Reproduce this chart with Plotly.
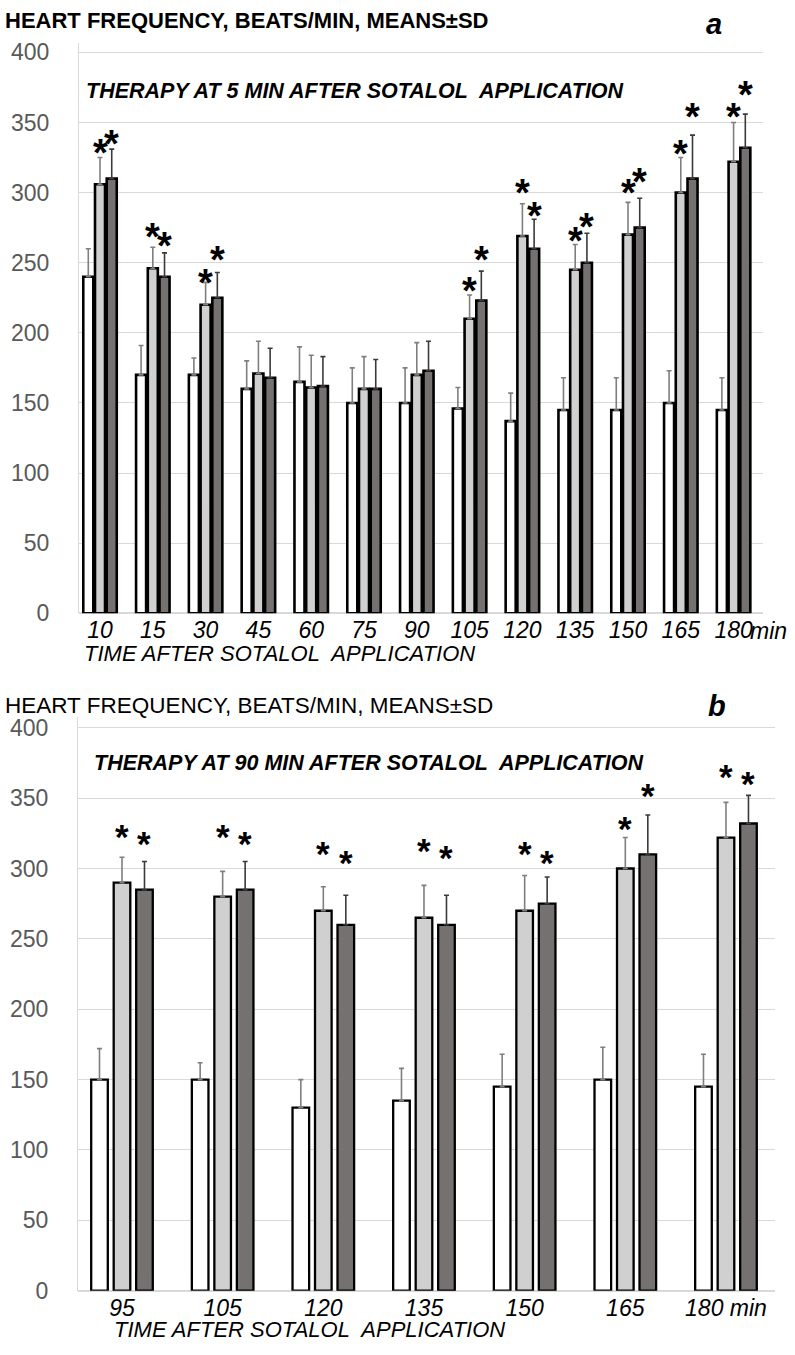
import plotly.graph_objects as go

# ---------------- data: panel a ----------------
cats_a = ["10", "15", "30", "45", "60", "75", "90", "105", "120", "135", "150", "165", "180"]
a_white = [240, 170, 170, 160, 165, 150, 150, 146, 137, 145, 145, 150, 145]
a_white_sd = [20, 21, 12, 20, 25, 25, 25, 15, 20, 23, 23, 23, 23]
a_light = [306, 246, 220, 171, 161, 160, 170, 210, 269, 245, 270, 300, 322]
a_light_sd = [19, 15, 16, 23, 23, 23, 23, 17, 23, 18, 23, 25, 28]
a_dark = [310, 240, 225, 168, 162, 160, 173, 223, 260, 250, 275, 310, 332]
a_dark_sd = [21, 17, 18, 21, 21, 21, 21, 21, 21, 21, 21, 31, 24]
# asterisk heights (None = no asterisk)
a_star_light = [335, 275, 242, None, None, None, None, 236, 306, 272, 306, 334, 360]
a_star_dark = [341, 268, 258, None, None, None, None, 258, 290, 282, 314, 360, 376]

# ---------------- data: panel b ----------------
cats_b = ["95", "105", "120", "135", "150", "165", "180"]
b_white = [150, 150, 130, 135, 145, 150, 145]
b_white_sd = [22, 12, 20, 23, 23, 23, 23]
b_light = [290, 280, 270, 265, 270, 300, 322]
b_light_sd = [18, 18, 17, 23, 25, 22, 25]
b_dark = [285, 285, 260, 260, 275, 310, 332]
b_dark_sd = [20, 20, 21, 21, 19, 28, 20]
b_star_light = [329, 329, 317, 319, 317, 335, 372]
b_star_dark = [324, 324, 311, 314, 311, 358, 367]

y_ticks = [0, 50, 100, 150, 200, 250, 300, 350, 400]

W, H = 795, 1355
FONT = "Liberation Sans, Arial, sans-serif"
C_WHITE, C_LIGHT, C_DARK = "#FFFFFF", "#D0D0D0", "#767171"
ERR_LIGHT, ERR_DARK = "#7F7F7F", "#3A3A3A"

fig = go.Figure()

def add_panel(cats, series, xa, ya, pitch, width, lw):
    idx = list(range(len(cats)))
    for k, (vals, sd, color, ecol) in enumerate(series):
        center = (k - 1) * pitch
        fig.add_trace(go.Bar(
            x=idx, y=vals, xaxis=xa, yaxis=ya,
            width=width, offset=center - width / 2,
            marker=dict(color=color, line=dict(color="#000000", width=lw)),
            error_y=dict(type="data", array=sd, symmetric=False, arrayminus=[0] * len(sd),
                         color=ecol, thickness=1.6, width=2.5),
            showlegend=False, hoverinfo="skip",
        ))

PITCH_A, WIDTH_A = 0.222, 0.19
PITCH_B, WIDTH_B = 0.2235, 0.165

add_panel(cats_a, [(a_white, a_white_sd, C_WHITE, ERR_LIGHT),
                   (a_light, a_light_sd, C_LIGHT, ERR_LIGHT),
                   (a_dark, a_dark_sd, C_DARK, ERR_DARK)], "x", "y", PITCH_A, WIDTH_A, 2.6)
add_panel(cats_b, [(b_white, b_white_sd, C_WHITE, ERR_LIGHT),
                   (b_light, b_light_sd, C_LIGHT, ERR_LIGHT),
                   (b_dark, b_dark_sd, C_DARK, ERR_DARK)], "x2", "y2", PITCH_B, WIDTH_B, 2.3)

def px_x(p):
    return p / W

def px_y(p):
    return 1 - p / H

# domains (pixel measurements of plot areas)
xa_dom = [px_x(79), px_x(763)]
ya_dom = [px_y(617), px_y(40)]
xb_dom = [px_x(78), px_x(775)]
yb_dom = [px_y(1303), px_y(722)]

ya_top = 400 * (617 - 40) / (617 - 49)
yb_top = 400 * (1303 - 722) / (1303 - 733)

axis_common_y = dict(
    tickvals=y_ticks, showgrid=True, gridcolor="#D9D9D9", gridwidth=1,
    zeroline=True, zerolinecolor="#D9D9D9", zerolinewidth=1.5,
    showline=True, linecolor="#D9D9D9", linewidth=1,
    tickfont=dict(family=FONT, size=23, color="#595959"),
    ticks="", ticklabelstandoff=24,
)
axis_common_x = dict(
    showgrid=False, zeroline=False, showline=False, ticks="",
    tickfont=dict(family=FONT, size=23, color="#000000", style="italic"),
    ticklabelstandoff=1,
)

ticktext_a = list(cats_a)
ticktext_b = list(cats_b[:-1]) + [cats_b[-1] + " min"]

fig.update_layout(
    width=W, height=H, paper_bgcolor="#FFFFFF", plot_bgcolor="#FFFFFF",
    margin=dict(l=0, r=0, t=0, b=0),
    barmode="overlay",
    xaxis=dict(domain=xa_dom, anchor="y", range=[-0.398, 12.557],
               tickvals=list(range(len(cats_a))), ticktext=ticktext_a, **axis_common_x),
    yaxis=dict(domain=ya_dom, anchor="x", range=[0, ya_top], **axis_common_y),
    xaxis2=dict(domain=xb_dom, anchor="y2", range=[-0.437, 6.487],
                tickvals=list(range(len(cats_b))), ticktext=ticktext_b, **axis_common_x),
    yaxis2=dict(domain=yb_dom, anchor="x2", range=[0, yb_top], **axis_common_y),
)

ann = []

def star(xref, yref, x, y, size):
    ann.append(dict(xref=xref, yref=yref, x=x, y=y, text="<b>*</b>", showarrow=False,
                    font=dict(family=FONT, size=size, color="#000000"),
                    xanchor="center", yanchor="middle", yshift=-9))

for i in range(len(cats_a)):
    if a_star_light[i] is not None:
        star("x", "y", i, a_star_light[i], 38)
    if a_star_dark[i] is not None:
        star("x", "y", i + PITCH_A, a_star_dark[i], 38)
for i in range(len(cats_b)):
    star("x2", "y2", i, b_star_light[i], 35)
    star("x2", "y2", i + PITCH_B, b_star_dark[i], 35)

def text(x, y, s, size, bold=False, italic=False, anchor="left", color="#000000"):
    ann.append(dict(xref="paper", yref="paper", x=px_x(x), y=px_y(y),
                    text=("<b>%s</b>" % s) if bold else s, showarrow=False,
                    font=dict(family=FONT, size=size, color=color,
                              style="italic" if italic else "normal"),
                    xanchor=anchor, yanchor="middle"))

NB = "\u00a0"
# panel a texts
text(3, 17, "HEART FREQUENCY, BEATS/MIN, MEANS±SD", 22, bold=True)
text(704, 20, "a", 29, bold=True, italic=True)
text(84, 88, "THERAPY AT 5 MIN AFTER SOTALOL" + NB + " APPLICATION", 21.5, bold=True, italic=True)
text(82, 658, "TIME AFTER SOTALOL" + NB + " APPLICATION", 22, italic=True)
text(748, 635, "min", 23, italic=True)
# panel b texts
text(3, 710, "HEART FREQUENCY, BEATS/MIN, MEANS±SD", 22.5)
text(706, 711, "b", 29, bold=True, italic=True)
text(92, 769, "THERAPY AT 90 MIN AFTER SOTALOL" + NB + " APPLICATION", 21.5, bold=True, italic=True)
text(112, 1342, "TIME AFTER SOTALOL" + NB + " APPLICATION", 22, italic=True)

fig.update_layout(annotations=ann)
fig.write_html("out.html", config={"displayModeBar": False},
               post_script="document.body.style.margin='0px';")
